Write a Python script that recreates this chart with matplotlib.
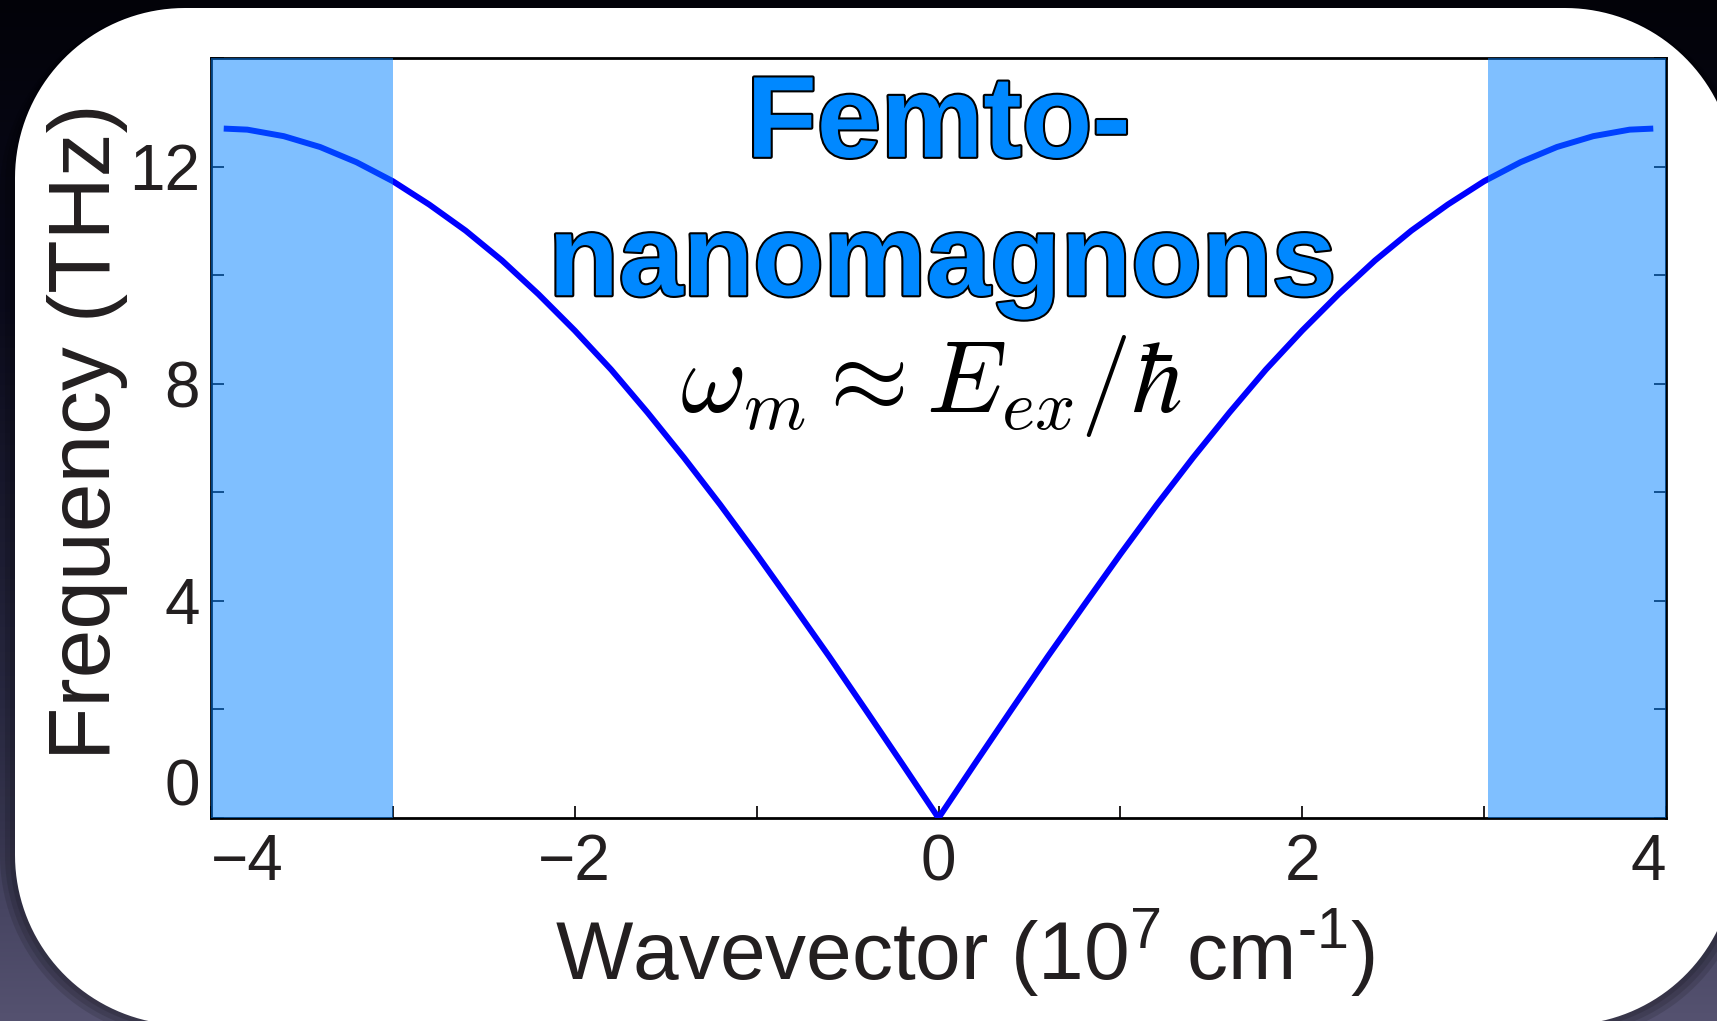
import numpy as np
import matplotlib
matplotlib.use("Agg")
import matplotlib.pyplot as plt
import matplotlib.patheffects as pe
from matplotlib.patches import Polygon

plt.rcParams["font.family"] = ["Liberation Sans", "DejaVu Sans"]

# magnon dispersion (right branch, mirrored for k<0)
K_POS = [0.0, 0.2, 0.4, 0.6, 0.8, 1.0, 1.2, 1.4, 1.6, 1.8, 2.0, 2.2, 2.4,
         2.6, 2.8, 3.0, 3.2, 3.4, 3.6, 3.8, 3.93]
F_POS = [0.0, 1.00, 1.99, 2.97, 3.92, 4.86, 5.77, 6.64, 7.47, 8.26, 8.98,
         9.65, 10.27, 10.82, 11.30, 11.73, 12.08, 12.36, 12.56, 12.68, 12.70]
BANDS = [(-4.0, -3.0), (3.02, 4.0)]
XTICKS = [-4, -3, -2, -1, 0, 1, 2, 3, 4]
XTICKLABELS = ["\u22124", "", "\u22122", "", "0", "", "2", "", "4"]
YTICKS = [0, 2, 4, 6, 8, 10, 12, 14]
YTICKLABELS = ["0", "", "4", "", "8", "", "12", ""]

W, H = 1717, 1021
C_TXT = "#231f20"
C_LINE = "#0000ff"
C_BAND = (0.0, 0.5, 1.0)
C_TITLE = "#0088ff"


def rounded_rect(x0, y0, x1, y1, r, n=40):
    """Vertices of a rounded rectangle (pixel coords, y down)."""
    pts = []
    for cx, cy, a0 in [(x1 - r, y0 + r, -90), (x1 - r, y1 - r, 0),
                       (x0 + r, y1 - r, 90), (x0 + r, y0 + r, 180)]:
        t = np.radians(np.linspace(a0, a0 + 90, n))
        pts.append(np.column_stack([cx + r * np.cos(t), cy + r * np.sin(t)]))
    return np.vstack(pts)


fig = plt.figure(figsize=(W / 100, H / 100), dpi=100)

# slide background: dark vertical gradient + white rounded card
bg = fig.add_axes([0, 0, 1, 1], zorder=-2)
yy = np.arange(H)
stops = [0, 300, 700, H]
grad = np.stack([np.interp(yy, stops, [2, 12, 45, 85]),
                 np.interp(yy, stops, [2, 12, 45, 82]),
                 np.interp(yy, stops, [8, 30, 72, 112])], axis=1) / 255.0
bg.imshow(np.repeat(grad[:, None, :], 4, axis=1), extent=[0, W, H, 0], aspect="auto")
for g in (15, 10, 5):
    bg.add_patch(Polygon(rounded_rect(15 - g, 8, 1735 + g, 1025 + g, 170 + g),
                         closed=True, fc="black", ec="none", alpha=0.12))
bg.add_patch(Polygon(rounded_rect(15, 8, 1735, 1025, 170), closed=True, fc="white", ec="none"))
bg.set_xlim(0, W); bg.set_ylim(H, 0); bg.axis("off")

ax = fig.add_axes([211 / W, 1 - 818 / H, 1455 / W, 760 / H])
ax.set_facecolor("white")

k = [-x for x in K_POS[::-1]] + K_POS[1:]
f = F_POS[::-1] + F_POS[1:]
ax.plot(k, f, color=C_LINE, lw=4.3, solid_capstyle="butt", solid_joinstyle="round", zorder=3)
for lo, hi in BANDS:
    ax.axvspan(lo, hi, color=C_BAND, alpha=0.5, lw=0, zorder=5)

ax.set_xlim(-4, 4); ax.set_ylim(0, 14)
ax.set_xticks(XTICKS); ax.set_xticklabels(XTICKLABELS)
ax.set_yticks(YTICKS); ax.set_yticklabels(YTICKLABELS)
ax.tick_params(direction="in", length=9, width=1.4, color=C_TXT, labelcolor=C_TXT,
               labelsize=46, right=True, top=False)
ax.tick_params(axis="x", pad=11)
ax.tick_params(axis="y", pad=8)
for s in ax.spines.values():
    s.set_linewidth(2.0); s.set_color("black")
xt = ax.xaxis.get_major_ticks()
xt[0].label1.set_horizontalalignment("left")
xt[-1].label1.set_horizontalalignment("right")
ax.yaxis.get_major_ticks()[0].label1.set_verticalalignment("bottom")

outline = [pe.Stroke(linewidth=3, foreground="black"), pe.Normal()]
ax.text(0.0, 12.18, "Femto-", ha="center", va="baseline", fontsize=83, fontweight="bold",
        color=C_TITLE, path_effects=outline, zorder=10)
ax.text(0.02, 9.63, "nanomagnons", ha="center", va="baseline", fontsize=83, fontweight="bold",
        color=C_TITLE, path_effects=outline, zorder=10)
ax.text(-0.04, 7.48, r"$\omega_m \approx E_{ex}/\hbar$", ha="center", va="baseline",
        fontsize=73, color="black", math_fontfamily="cm", zorder=10)

xlabel = "Wavevector (10$^{\\mathregular{7}}$ cm$^{\\mathregular{\u20101}}$)"
fig.text(965 / W, 1 - 980 / H, xlabel, ha="center", va="baseline", fontsize=59, color=C_TXT)
fig.text(110 / W, 1 - 432 / H, "Frequency (THz)", ha="center", va="baseline",
         rotation=90, rotation_mode="anchor", fontsize=63, color=C_TXT)

fig.savefig("out.png", dpi=100)
